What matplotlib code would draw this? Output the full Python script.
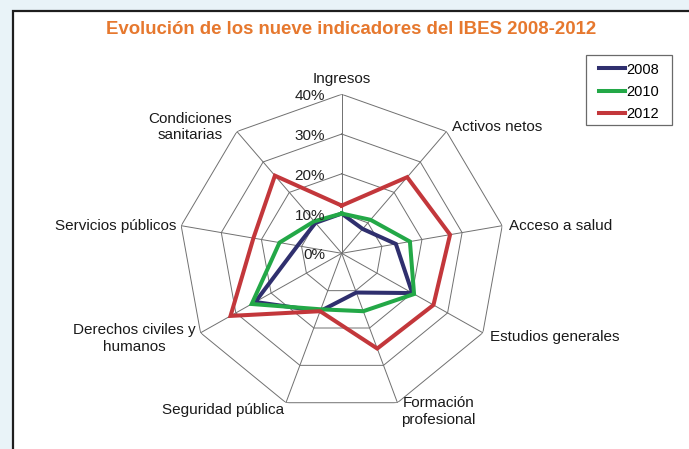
import numpy as np
import matplotlib
matplotlib.use("Agg")
import matplotlib.pyplot as plt
from matplotlib.patches import Rectangle
from matplotlib.lines import Line2D

plt.rcParams['font.family'] = ['Liberation Sans', 'DejaVu Sans']

categories = ["Ingresos", "Activos netos", "Acceso a salud", "Estudios generales",
              "Formación\nprofesional", "Seguridad pública", "Derechos civiles y\nhumanos",
              "Servicios públicos", "Condiciones\nsanitarias"]
v2008 = [10, 8, 13.5, 20, 10.5, 15.5, 24.5, 11, 10]
v2010 = [10, 11, 17, 20.5, 15.5, 15, 25.5, 15.5, 10.5]
v2012 = [12, 25, 27, 26, 25.5, 15.5, 31.5, 22, 25.5]
series_names = ["2008", "2010", "2012"]
series_colors = ["#2f2f6e", "#23a847", "#c3373b"]
ring_values = [0, 10, 20, 30, 40]
ring_labels = ["0%", "10%", "20%", "30%", "40%"]
title = "Evolución de los nueve indicadores del IBES 2008-2012"

W, H = 689, 449
fig = plt.figure(figsize=(W / 100, H / 100), dpi=100)
fig.patch.set_facecolor("#e9f3f8")
bg = Rectangle((13 / W, -0.1), 1.2, (H - 11) / H + 0.1,
               transform=fig.transFigure, fc="white", ec="#1e1e1e",
               lw=1.6, zorder=-10)
fig.add_artist(bg)

cx, cy = 341.7, 253.3
Rx, Ry = 163, 159
ax = fig.add_axes([(cx - Rx) / W, (H - cy - Ry) / H, 2 * Rx / W, 2 * Ry / H],
                  projection="polar")
ax.set_zorder(2)
ax.set_aspect("auto")
ax.set_theta_zero_location("N")
ax.set_theta_direction(-1)
ax.set_ylim(0, 40)
ax.grid(False)
ax.set_xticks([])
ax.set_yticks([])
ax.spines["polar"].set_visible(False)
ax.patch.set_alpha(0)

n = len(categories)
theta = np.arange(n) * 2 * np.pi / n
theta_c = np.append(theta, theta[0])

# polygon grid
for rv in ring_values[1:]:
    ax.plot(theta_c, [rv] * (n + 1), color="#707070", lw=0.7, zorder=1)
for t in theta:
    ax.plot([t, t], [0, 40], color="#707070", lw=0.7, zorder=1)

for vals, name, col in zip([v2008, v2010, v2012], series_names, series_colors):
    ax.plot(theta_c, list(vals) + [vals[0]], color=col, lw=2.9, label=name, zorder=3,
            solid_joinstyle="miter")

for rv, lab in zip(ring_values, ring_labels):
    ax.annotate(lab, xy=(0, rv), xytext=(-12, -1.5), textcoords="offset points",
                ha="right", va="center", fontsize=11, color="#222222", zorder=4)

px = 72 / 100
label_specs = [  # (ha, dx_px, dy_px down)
    ("center", 0, -15),
    ("left", 5.5, -4.5),
    ("left", 7, 0),
    ("left", 7, 4),
    ("left", 4, 9),
    ("right", -2, 7),
    ("right", -4.5, 6),
    ("right", -5, 0),
    ("right", -5, -4.5),
]
for t, lab, (ha, dx, dy) in zip(theta, categories, label_specs):
    ax.annotate(lab, xy=(t, 40), xytext=(dx * px, -dy * px), textcoords="offset points",
                ha=ha, va="center", multialignment="center", fontsize=11,
                color="#1a1a1a", linespacing=1.25, annotation_clip=False)

# legend
fig.add_artist(Rectangle((586 / W, 1 - 125 / H), 86 / W, 70 / H,
                         transform=fig.transFigure, fc="white", ec="#6a6a6a",
                         lw=0.9, zorder=3))
handles = [Line2D([], [], color=c, lw=2.9) for c in series_colors]
leg = fig.legend(handles, series_names, loc="upper left",
                 bbox_to_anchor=(599 / W, 1 - 62.5 / H), borderaxespad=0,
                 borderpad=0, fontsize=10.5, handlelength=1.75, handletextpad=0.15,
                 labelspacing=0.58, frameon=False)
leg.set_zorder(4)

fig.text(351 / W, 1 - 30 / H, title, ha="center", va="center", fontsize=13.4,
         fontweight="bold", color="#e6782e")

fig.savefig("out.png", dpi=100, facecolor=fig.get_facecolor())
